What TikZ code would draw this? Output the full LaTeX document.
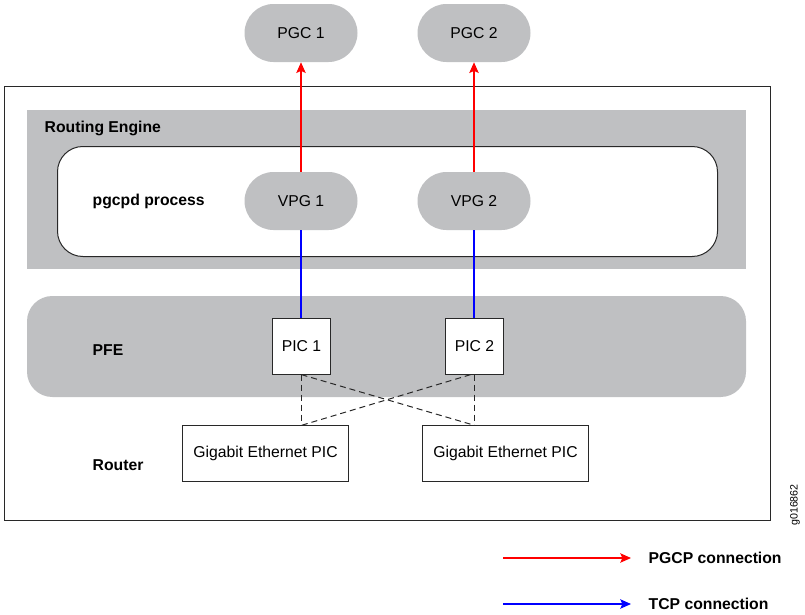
\documentclass[tikz,border=0pt]{standalone}
\usepackage{fontspec}
\setmainfont{Liberation Sans}
\usetikzlibrary{arrows.meta,shapes.misc}
\definecolor{panel}{RGB}{191,192,194}
\definecolor{edge}{RGB}{40,40,40}
\begin{document}
\begin{tikzpicture}[x=0.75pt,y=-0.75pt,
  every node/.style={font=\fontsize{11.8pt}{14pt}\selectfont},
  pill/.style={rounded rectangle,fill=panel,minimum width=84.75pt,minimum height=43.5pt,inner sep=0pt},
  picbox/.style={draw=edge,line width=0.75pt,fill=white,minimum width=44pt,minimum height=41.5pt,inner sep=0pt},
  gigbox/.style={draw=edge,line width=0.75pt,fill=white,minimum width=125pt,minimum height=41.5pt,inner sep=0pt},
  lbl/.style={anchor=west,font=\fontsize{11.8pt}{14pt}\selectfont\bfseries},
  pgcp/.style={red,line width=1.1pt,-{Stealth[length=8pt,width=7pt,inset=1.5pt]}},
  tcp/.style={blue,line width=1.1pt},
  tcparrow/.style={tcp,-{Stealth[length=8pt,width=7pt,inset=1.5pt]}},
  link/.style={edge,line width=0.75pt,dash pattern=on 4.5pt off 3pt}
]
\useasboundingbox (0,0) rectangle (805,614);

% outer frame
\draw[edge,line width=0.75pt] (4.5,86.5) rectangle (770.5,520.5);

% Routing Engine panel and pgcpd process box
\fill[panel] (27,110) rectangle (746,269);
\node[lbl] (re) at (40,128) {Routing Engine};
\draw[edge,line width=0.75pt,fill=white,rounded corners=19pt] (57.5,146.5) rectangle (717.5,256.5);
\node[lbl] (proc) at (88,201) {pgcpd process};

% PFE panel
\fill[panel,rounded corners=19pt] (27,296) rectangle (746,397);
\node[lbl] (pfe) at (88,350) {PFE};

% Router label
\node[lbl] (router) at (88,465) {Router};

% gateway controllers
\node[pill] (pgc1) at (301,33) {PGC 1};
\node[pill] (pgc2) at (474,33) {PGC 2};
\node[pill] (vpg1) at (301,201) {VPG 1};
\node[pill] (vpg2) at (474,201) {VPG 2};

% interface cards
\node[picbox] (pic1) at (301.5,346.5) {PIC 1};
\node[picbox] (pic2) at (474.5,346.5) {PIC 2};
\node[gigbox] (gig1) at (265.5,453.5) {Gigabit Ethernet PIC};
\node[gigbox] (gig2) at (505.5,453.5) {Gigabit Ethernet PIC};

% connections
\draw[pgcp] (vpg1.north) -- (pgc1.south);
\draw[pgcp] (vpg2.north) -- (pgc2.south);
\draw[tcp] (vpg1.south) -- (pic1.north -| vpg1.south);
\draw[tcp] (vpg2.south) -- (pic2.north -| vpg2.south);

\draw[link] (pic1.south) -- (pic1.south |- gig1.north);
\draw[link] (pic2.south) -- (pic2.south |- gig2.north);
\draw[link] (pic1.south) -- (pic2.south |- gig2.north);
\draw[link] ([xshift=-3pt]pic2.south) -- (pic1.south |- gig1.north);

% legend
\coordinate (l1a) at (503,558);
\coordinate (l1b) at (631,558);
\coordinate (l2a) at (503,604);
\coordinate (l2b) at (631,604);
\draw[pgcp] (l1a) -- (l1b);
\draw[tcparrow] (l2a) -- (l2b);
\node[lbl] (lg1) at (644,558) {PGCP connection};
\node[lbl] (lg2) at (644,604) {TCP connection};

% figure id
\node[rotate=90,font=\fontsize{8pt}{9pt}\selectfont] (fid) at (795,505) {g016862};
\end{tikzpicture}
\end{document}
